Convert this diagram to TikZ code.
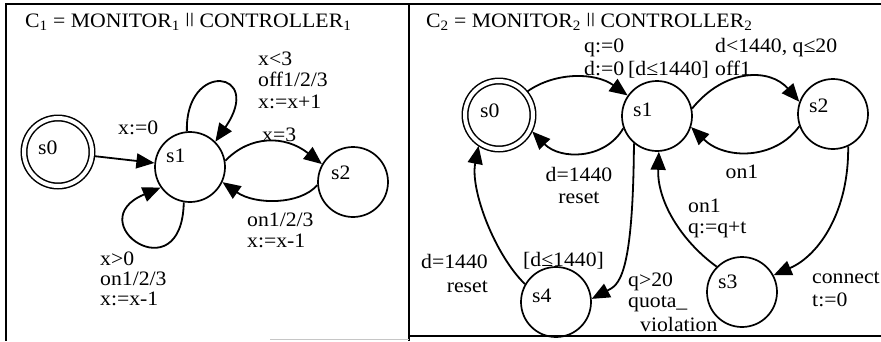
\documentclass[tikz,border=0pt]{standalone}
\usepackage{fontspec}
\setmainfont{Liberation Serif}[FakeStretch=1.06]
\usetikzlibrary{arrows.meta}
% parallel-composition bars
\newcommand{\parsym}{\raisebox{0.15em}{\scalebox{1}[0.72]{||}}}
\begin{document}
\begin{tikzpicture}[x=1pt,y=-1pt,
  txt/.style={font=\fontsize{20.5}{22}\selectfont, inner sep=0pt, anchor=base west},
  state/.style={circle, draw, line width=1.7pt, minimum size=#1, inner sep=0pt},
  state/.default=70pt,
  startstate/.style={circle, draw, line width=1.5pt, double, double distance=4pt, minimum size=#1, inner sep=0pt},
  startstate/.default=68pt,
  trans/.style={line width=1.8pt, -{Triangle[length=18pt,width=15pt]}},
  panel/.style={line width=2pt}]
\useasboundingbox (0,0) rectangle (881,341);

% panel frames
\draw[panel, line width=2.5pt] (5,4) -- (881,4);
\draw[panel] (6,3) -- (6,341);
\draw[panel] (409,3) -- (409,341);
\draw[panel, line width=2.5pt] (409,336) -- (881,336);
\draw[gray!45, line width=1pt] (270,339) -- (409,339);

% ---------------- C1 ----------------
\node[txt] (t1) at (25,27) {C\textsubscript{1} = MONITOR\textsubscript{1} \parsym{} CONTROLLER\textsubscript{1}};

\node[startstate] (L0) at (58,152) {};
\node[state] (L1) at (190,167) {};
\node[state] (L2) at (353,182) {};
\node[txt] (n0) at (38,154) {s0};
\node[txt] (n1) at (166,162) {s1};
\node[txt] (n2) at (331,179) {s2};

\draw[trans, shorten <=2.5pt] (L0) -- (L1);
\draw[trans] (L1.95) .. controls (185,60) and (265,70) .. (L1.45);
\draw[trans] (L1.-100) .. controls (182,295) and (78,222) .. (L1.215);
\draw[trans] (L1.10) .. controls (250,135) and (285,135) .. (L2.150);
\draw[trans] (L2.185) .. controls (300,205) and (255,205) .. (L1.-25);

\node[txt] (a1) at (118,134) {x:=0};
\node[txt] (a2) at (258,65) {x<3};
\node[txt] (a3) at (258,86) {off1/2/3};
\node[txt] (a4) at (258,108) {x:=x+1};
\node[txt] (a5) at (262,141) {x=3};
\node[txt] (a6) at (247,226) {on1/2/3};
\node[txt] (a7) at (247,247) {x:=x-1};
\node[txt] (a8) at (100,265) {x>0};
\node[txt] (a9) at (100,285) {on1/2/3};
\node[txt] (a10) at (100,305) {x:=x-1};

% ---------------- C2 ----------------
\node[txt] (t2) at (426,27) {C\textsubscript{2} = MONITOR\textsubscript{2} \parsym{} CONTROLLER\textsubscript{2}};

\node[startstate] (R0) at (499,115) {};
\node[state] (R1) at (657,116) {};
\node[state] (R2) at (833,114) {};
\node[state] (R3) at (742,292) {};
\node[state] (R4) at (556,302) {};
\node[txt] (m0) at (480,117) {s0};
\node[txt] (m1) at (633,116) {s1};
\node[txt] (m2) at (809,112) {s2};
\node[txt] (m3) at (718,288) {s3};
\node[txt] (m4) at (532,302) {s4};

\draw[trans, shorten <=2.5pt] (R0.40) .. controls (555,72) and (595,72) .. (R1.145);
\draw[trans, shorten >=2.5pt] (R1.200) .. controls (605,160) and (560,160) .. (R0.-25);
\draw[trans] (R1.12) .. controls (725,68) and (770,68) .. (R2.160);
\draw[trans] (R2.200) .. controls (775,160) and (725,160) .. (R1.-18);
\draw[trans] (R2.-65) .. controls (849,210) and (820,255) .. (R3.28);
\draw[trans] (R3.135) .. controls (680,240) and (657,200) .. (R1.-87);
\draw[trans] (R1.-130) .. controls (633,280) and (618,285) .. (R4.5);
\draw[trans, shorten >=2.5pt] (R4.150) .. controls (495,255) and (470,190) .. (R0.-125);

\node[txt] (b1) at (584,52) {q:=0};
\node[txt] (b2) at (584,75) {d:=0};
\node[txt] (b3) at (628,75) {[d≤1440]};
\node[txt] (b4) at (715,52) {d<1440, q≤20};
\node[txt] (b5) at (715,75) {off1};
\node[txt, anchor=base] (b6) at (579,181) {d=1440};
\node[txt, anchor=base] (b7) at (579,203) {reset};
\node[txt, anchor=base] (b8) at (742,178) {on1};
\node[txt] (b9) at (688,212) {on1};
\node[txt] (b10) at (688,233) {q:=q+t};
\node[txt] (b11) at (523,266) {[d≤1440]};
\node[txt] (b12) at (628,286) {q>20};
\node[txt] (b13) at (628,307) {quota\_};
\node[txt] (b14) at (640,331) {violation};
\node[txt] (b15) at (812,283) {connect};
\node[txt] (b16) at (812,306) {t:=0};
\node[txt, anchor=base east] (b17) at (488,268) {d=1440};
\node[txt, anchor=base east] (b18) at (488,292) {reset};
\end{tikzpicture}
\end{document}
